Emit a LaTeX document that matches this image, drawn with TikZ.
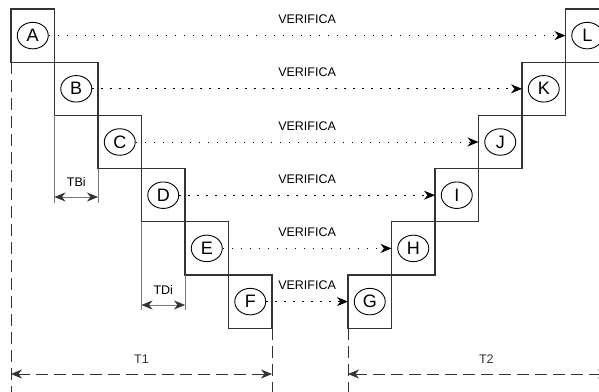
\documentclass[tikz,border=0pt]{standalone}
\usepackage{fontspec}
\setmainfont{Liberation Sans}
\usetikzlibrary{arrows.meta,positioning,shapes.geometric}
\definecolor{vLine}{HTML}{333333}
\definecolor{vGuide}{HTML}{7A7A7A}
\tikzset{
  stepbox/.style={draw=vLine, line width=1.2pt, minimum width=43.5pt,
                  minimum height=53.2pt, inner sep=0pt, outer sep=0pt},
  ring/.style={ellipse, draw=black, line width=0.9pt, minimum width=31pt,
               minimum height=26.5pt, inner sep=0pt, font=\fontsize{18}{20}\selectfont},
  lbl/.style={font=\fontsize{12.5}{14}\selectfont},
  check/.style={-{Stealth[length=11pt, width=9pt, inset=3.5pt]}, line width=1pt,
                dash pattern=on 1.5pt off 7.5pt},
  guide/.style={vGuide, line width=0.6pt},
  span/.style={{Stealth[length=11pt, width=9pt, inset=3.5pt, color=vLine]}-{Stealth[length=11pt, width=9pt, inset=3.5pt, color=vLine]},
               vGuide, line width=0.7pt},
  longspan/.style={{Stealth[length=11pt, width=9pt, inset=3.5pt]}-{Stealth[length=11pt, width=9pt, inset=3.5pt]},
               vLine, line width=0.9pt, dash pattern=on 12pt off 6pt},
  limit/.style={vLine, line width=0.9pt, dash pattern=on 12pt off 6pt},
}
\begin{document}
\begin{tikzpicture}[x=1pt, y=-1pt]
    \path[use as bounding box, clip] (0,0) rectangle (599,391);
    % descending steps
    \node[stepbox] (bA) at (32.75,35.6) {};
    \node[stepbox, below right=0pt and 0pt of bA] (bB) {};
    \node[stepbox, below right=0pt and 0pt of bB] (bC) {};
    \node[stepbox, below right=0pt and 0pt of bC] (bD) {};
    \node[stepbox, below right=0pt and 0pt of bD] (bE) {};
    \node[stepbox, below right=0pt and 0pt of bE] (bF) {};
    % ascending steps
    \node[stepbox] (bG) at (369.75,301.6) {};
    \node[stepbox, above right=0pt and 0pt of bG] (bH) {};
    \node[stepbox, above right=0pt and 0pt of bH] (bI) {};
    \node[stepbox, above right=0pt and 0pt of bI] (bJ) {};
    \node[stepbox, above right=0pt and 0pt of bJ] (bK) {};
    \node[stepbox, above right=0pt and 0pt of bK] (bL) {};
    \node[ring] (A) at (bA) {A};
    \node[ring] (B) at (bB) {B};
    \node[ring] (C) at (bC) {C};
    \node[ring] (D) at (bD) {D};
    \node[ring] (E) at (bE) {E};
    \node[ring] (F) at (bF) {F};
    \node[ring] (G) at (bG) {G};
    \node[ring] (H) at (bH) {H};
    \node[ring] (I) at (bI) {I};
    \node[ring] (J) at (bJ) {J};
    \node[ring] (K) at (bK) {K};
    \node[ring] (L) at (bL) {L};
    \draw[check] (A) -- node[lbl, above=8pt] {VERIFICA} (A -| bL.west);
    \draw[check] (B) -- node[lbl, above=8pt] {VERIFICA} (B -| bK.west);
    \draw[check] (C) -- node[lbl, above=8pt] {VERIFICA} (C -| bJ.west);
    \draw[check] (D) -- node[lbl, above=8pt] {VERIFICA} (D -| bI.west);
    \draw[check] (E) -- node[lbl, above=8pt] {VERIFICA} (E -| bH.west);
    \draw[check] (F) -- node[lbl, above=8pt] {VERIFICA} (F -| bG.west);
    % offsets
    \coordinate (tb) at (0,197);
    \coordinate (td) at (0,305);
    \draw[guide] (bB.south west) -- ([yshift=-6pt]bB.south west |- tb);
    \draw[guide] (bC.south west) -- ([yshift=-6pt]bC.south west |- tb);
    \draw[span] (bB.south west |- tb) -- node[lbl, text=black, above=7pt] {TBi} (bC.south west |- tb);
    \draw[guide] (bD.south west) -- ([yshift=-5pt]bD.south west |- td);
    \draw[guide] (bE.south west) -- ([yshift=-5pt]bE.south west |- td);
    \draw[span] (bD.south west |- td) -- node[lbl, text=black, above=7pt] {TDi} (bE.south west |- td);
    % total times
    \coordinate (base) at (0,400);
    \coordinate (tt) at (0,374);
    \draw[limit] (bA.south west) -- (bA.south west |- base);
    \draw[limit] (bF.south east) -- (bF.south east |- base);
    \draw[limit] (bG.south west) -- (bG.south west |- base);
    \draw[limit] (bL.south east) -- (bL.south east |- base);
    \draw[longspan] (bA.south west |- tt) -- node[lbl, above=7pt] {T1} (bF.south east |- tt);
    \draw[longspan] (bG.south west |- tt) -- node[lbl, pos=0.53, above=7pt] {T2} (bL.south east |- tt);
\end{tikzpicture}
\end{document}
